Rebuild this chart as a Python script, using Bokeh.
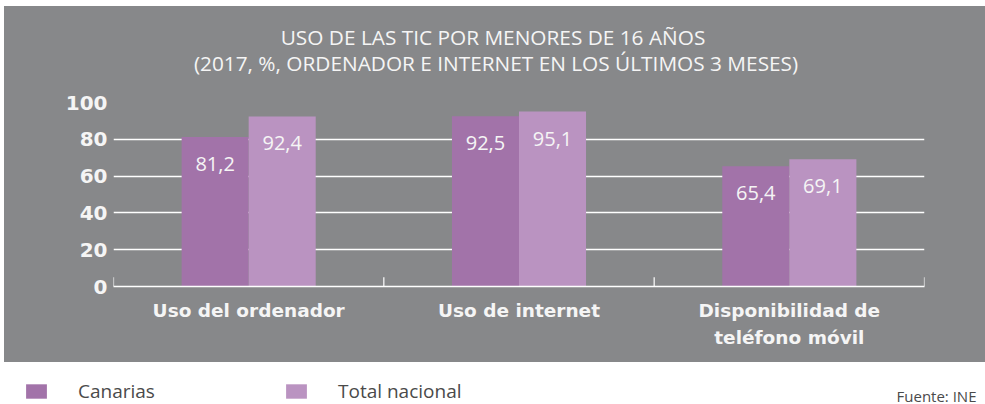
from bokeh.plotting import figure
from bokeh.models import (ColumnDataSource, Range1d, FactorRange, Label, Legend, LegendItem,
                          FixedTicker, Spacer)
from bokeh.transform import dodge
from bokeh.layouts import column, row
from bokeh.core.properties import value
from bokeh.embed import file_html
from bokeh.resources import INLINE

# ---- data ----
categories = ["Uso del ordenador", "Uso de internet", "Disponibilidad de\nteléfono móvil"]
canarias = [81.2, 92.5, 65.4]
total_nacional = [92.4, 95.1, 69.1]
series_names = ["Canarias", "Total nacional"]
y_ticks = [0, 20, 40, 60, 80, 100]
title_lines = ["USO DE LAS TIC POR MENORES DE 16 AÑOS",
               "(2017, %, ORDENADOR E INTERNET EN LOS ÚLTIMOS 3 MESES)"]
source_text = "Fuente: INE"

# ---- style ----
GREY = "#87888a"
C1 = "#a273a9"
C2 = "#ba93c1"
TXT = "#f5f5f5"
DARK = "#4a4a4a"


def bare(fig, bg):
    fig.axis.visible = False
    fig.grid.visible = False
    fig.outline_line_color = None
    fig.background_fill_color = bg
    fig.border_fill_color = bg
    return fig


# ---- header (title) ----
H_W, H_H = 981, 74
head = bare(figure(width=H_W, height=H_H, x_range=Range1d(0, H_W), y_range=Range1d(0, H_H),
                   output_backend="svg", toolbar_location=None, min_border=0,
                   min_border_left=0, min_border_right=0, min_border_top=0, min_border_bottom=0,
                   styles={"background-color": GREY}),
            GREY)
for txt, (xx, yy) in zip(title_lines, ((488.5, 44), (491.5, 18))):
    head.add_layout(Label(x=xx, y=yy, text=txt, text_align="center", text_baseline="middle",
                          text_color=TXT, text_font="Open Sans", text_font_size="20.8px"))

# ---- main chart ----
fmt = lambda v: f"{v:.1f}".replace(".", ",")
src = ColumnDataSource(dict(
    cat=categories,
    can=canarias,
    tot=total_nacional,
    can_lbl=[fmt(v) for v in canarias],
    tot_lbl=[fmt(v) for v in total_nacional],
))

p = figure(width=981, height=282, x_range=FactorRange(*categories), y_range=Range1d(0, 100),
           output_backend="svg", toolbar_location=None,
           min_border_left=109, min_border_right=61, min_border_top=22, min_border_bottom=76,
           styles={"background-color": GREY})
p.background_fill_color = GREY
p.border_fill_color = GREY
p.outline_line_color = None

off = 0.124
bw = 0.248
p.vbar(x=dodge("cat", -off, range=p.x_range), top="can", width=bw, source=src,
       fill_color=C1, line_color=None)
p.vbar(x=dodge("cat", off, range=p.x_range), top="tot", width=bw, source=src,
       fill_color=C2, line_color=None)

for lbl, ycol, d in (("can_lbl", "can", -off), ("tot_lbl", "tot", off)):
    p.text(x=dodge("cat", d, range=p.x_range), y=ycol, text=lbl, source=src,
           text_align="center", text_baseline="middle", y_offset=27,
           text_color=TXT, text_font=value("Open Sans"), text_font_size="20px")

# category separators
bounds = list(range(len(categories) + 1))
p.segment(x0=bounds, y0=[0] * len(bounds), x1=bounds, y1=[5] * len(bounds),
          line_color="white", line_width=1.2)

p.yaxis.ticker = FixedTicker(ticks=y_ticks)
p.yaxis.axis_line_color = None
p.yaxis.major_tick_line_color = None
p.yaxis.minor_tick_line_color = None
p.yaxis.major_label_standoff = 0
p.yaxis.major_label_text_font = "DejaVu Sans"
p.yaxis.major_label_text_font_style = "bold"
p.yaxis.major_label_text_font_size = "20px"
p.yaxis.major_label_text_color = TXT

p.xaxis.axis_line_color = "white"
p.xaxis.axis_line_width = 1.5
p.xaxis.major_tick_line_color = None
p.xaxis.minor_tick_line_color = None
p.xaxis.major_label_standoff = 7
p.xaxis.major_label_text_font = "DejaVu Sans"
p.xaxis.major_label_text_font_style = "bold"
p.xaxis.major_label_text_font_size = "18.5px"
p.xaxis.major_label_text_line_height = 1.33
p.xaxis.major_label_text_color = TXT

p.xgrid.grid_line_color = None
p.ygrid.grid_line_color = "white"
p.ygrid.grid_line_width = 1.5

# ---- legend strip ----
q = bare(figure(width=985, height=42, x_range=Range1d(0, 985), y_range=Range1d(0, 42),
                output_backend="svg", toolbar_location=None, min_border=0,
                min_border_left=0, min_border_right=0, min_border_top=0, min_border_bottom=0),
         "white")
# legend proxies (zero-size, never visible)
r1 = q.vbar(x=[0], top=[0], width=0, fill_color=C1, line_color=None)
r2 = q.vbar(x=[0], top=[0], width=0, fill_color=C2, line_color=None)
leg = Legend(items=[LegendItem(label=series_names[0], renderers=[r1]),
                    LegendItem(label=series_names[1], renderers=[r2])],
             orientation="horizontal", location=(23, 0),
             glyph_width=26, glyph_height=18, label_height=17, label_standoff=29, label_width=205,
             spacing=0, padding=0, margin=0, border_line_color=None,
             background_fill_alpha=0,
             label_text_font="Open Sans", label_text_font_size="19px",
             label_text_baseline="middle", label_text_line_height=1.0,
             label_text_color=DARK)
q.add_layout(leg)
q.add_layout(Label(x=976, y=9, text=source_text, text_align="right", text_baseline="alphabetic",
                   text_color=DARK, text_font="Open Sans", text_font_size="15px"))

root1 = column(Spacer(height=6), row(Spacer(width=4), head, spacing=0), spacing=0)
root2 = row(Spacer(width=4), p, spacing=0)
open("out.html", "w").write(file_html([root1, root2, q], INLINE))
